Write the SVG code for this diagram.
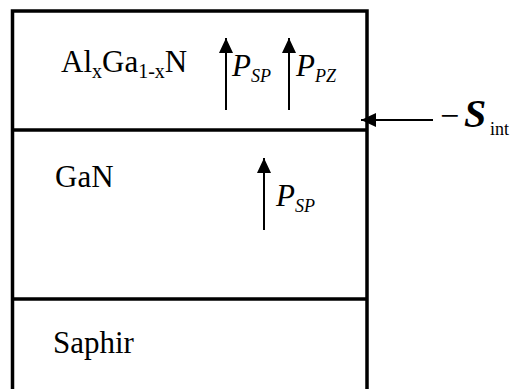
<svg xmlns="http://www.w3.org/2000/svg" width="512" height="389" viewBox="0 0 512 389">
<defs>
<marker id="ah" markerWidth="16" markerHeight="16" viewBox="0 0 16 16" refX="15" refY="7" orient="auto" markerUnits="userSpaceOnUse">
<path d="M0,0 L15,7 L0,14 Z" fill="#000"/>
</marker>
</defs>
<rect width="512" height="389" fill="#fff"/>
<g id="stack" stroke="#000" stroke-width="3.5" fill="none">
<path d="M12.5,395 V11 H367 V395"/>
<line x1="12.5" y1="130" x2="367" y2="130"/>
<line x1="12.5" y1="299" x2="367" y2="299"/>
</g>
<g id="algan">
<text x="61" y="72" font-family="Liberation Serif" font-size="31">Al<tspan font-size="20" dy="6">x</tspan><tspan dy="-6">Ga</tspan><tspan font-size="20" dy="6">1-x</tspan><tspan dy="-6">N</tspan></text>
</g>
<g id="gan">
<text x="55" y="187" font-family="Liberation Serif" font-size="31">GaN</text>
</g>
<g id="saphir">
<text x="53" y="353" font-family="Liberation Serif" font-size="31">Saphir</text>
</g>
<g id="connectors" stroke="#000" stroke-width="2" fill="none" marker-end="url(#ah)">
<line x1="226" y1="110" x2="226" y2="38"/>
<line x1="289" y1="110" x2="289" y2="38"/>
<line x1="264" y1="230" x2="264" y2="158"/>
<line x1="433" y1="120" x2="361" y2="120"/>
</g>
<g id="labels">
<text x="232" y="76" font-family="Liberation Serif" font-size="31" font-style="italic">P<tspan font-size="18" dy="6">SP</tspan></text>
<text x="296" y="76" font-family="Liberation Serif" font-size="31" font-style="italic">P<tspan font-size="18" dy="6">PZ</tspan></text>
<text x="276" y="206" font-family="Liberation Serif" font-size="31" font-style="italic">P<tspan font-size="18" dy="6">SP</tspan></text>
<text x="440" y="127" font-family="Liberation Serif" font-size="34">−<tspan x="464" font-weight="bold" font-style="italic" font-size="40">S</tspan><tspan x="490" font-size="18" dy="8">int</tspan></text>
</g>
</svg>
